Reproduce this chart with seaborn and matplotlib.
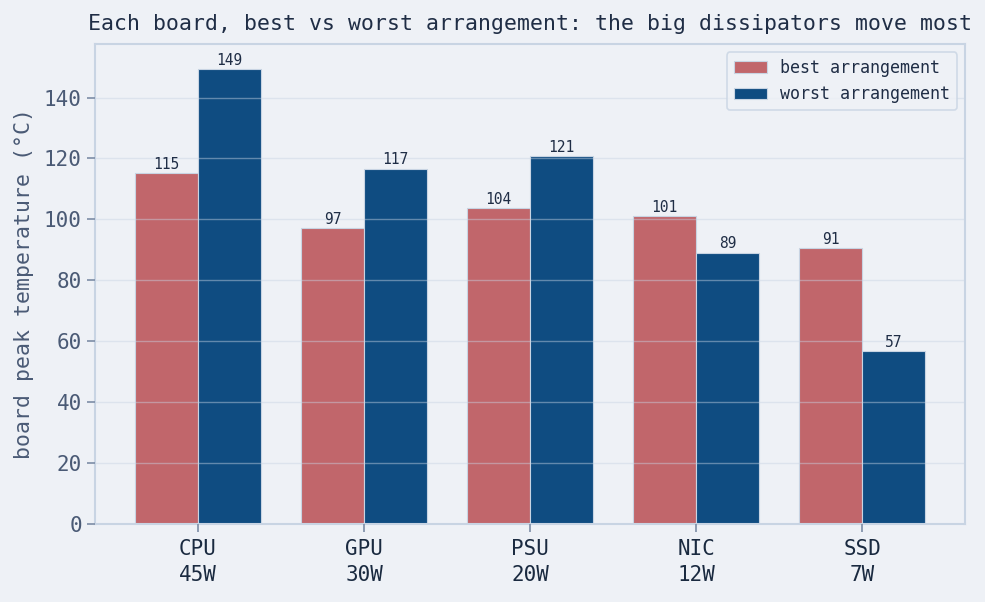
import numpy as np
import pandas as pd
import seaborn as sns
from matplotlib import pyplot as plt

boards = ["CPU\n45W", "GPU\n30W", "PSU\n20W", "NIC\n12W", "SSD\n7W"]
best_temp = [115.2, 97.1, 103.7, 101.1, 90.6]
worst_temp = [149.3, 116.6, 120.7, 89.0, 56.6]
series_names = ["best arrangement", "worst arrangement"]

BG = "#eef1f6"
EDGE = "#c8d4e3"
colors = ["#c1666b", "#0f4c81"]

df = pd.DataFrame({
	"board": boards * 2,
	"temp": best_temp + worst_temp,
	"arrangement": [series_names[0]] * len(boards) + [series_names[1]] * len(boards),
})

sns.set_theme(style="white")
plt.rcParams["font.family"] = ["DejaVu Sans Mono", "DejaVu Sans"]

fig, ax = plt.subplots(figsize=(9.85, 6.02), dpi=100)
fig.patch.set_facecolor(BG)
ax.set_facecolor(BG)

sns.barplot(data=df, x="board", y="temp", hue="arrangement", palette=colors,
			width=0.76, edgecolor=EDGE, linewidth=0.8, ax=ax, saturation=1)

for cont in ax.containers:
	ax.bar_label(cont, labels=[f"{v:.0f}" for v in cont.datavalues], padding=1,
				 fontsize=10.5, color="#1f2d45")

ax.set_xlim(-0.62, 4.62)
ax.set_ylim(0, 157.6)
ax.set_axisbelow(False)
ax.yaxis.grid(True, color=EDGE, alpha=0.45, linewidth=1)

ax.set_xlabel("")
ax.set_ylabel("board peak temperature (°C)", fontsize=15.5, color="#4a5a75", labelpad=7)
ax.set_title("Each board, best vs worst arrangement: the big dissipators move most",
			 fontsize=15.5, color="#1f2d45", pad=10)

ax.tick_params(axis="y", labelsize=15, colors="#7d8da6", length=6, width=1.2, left=True)
ax.tick_params(axis="x", labelsize=15, colors="#7d8da6", length=6, width=1.2, bottom=True, pad=5)
for label in ax.get_yticklabels():
	label.set_color("#4a5a75")
for label in ax.get_xticklabels():
	label.set_color("#1a2a40")
	label.set_linespacing(1.4)

for s in ax.spines.values():
	s.set_visible(True)
	s.set_color(EDGE)
	s.set_linewidth(1.5)

leg = ax.legend(loc="upper right", fontsize=12, frameon=True, title=None)
leg.get_frame().set_facecolor(BG)
leg.get_frame().set_edgecolor(EDGE)
leg.get_frame().set_linewidth(1.2)
for t in leg.get_texts():
	t.set_color("#1f2d45")

plt.subplots_adjust(left=0.0965, right=0.98, top=0.927, bottom=0.13)
plt.savefig("out.png", dpi=100, facecolor=BG)
